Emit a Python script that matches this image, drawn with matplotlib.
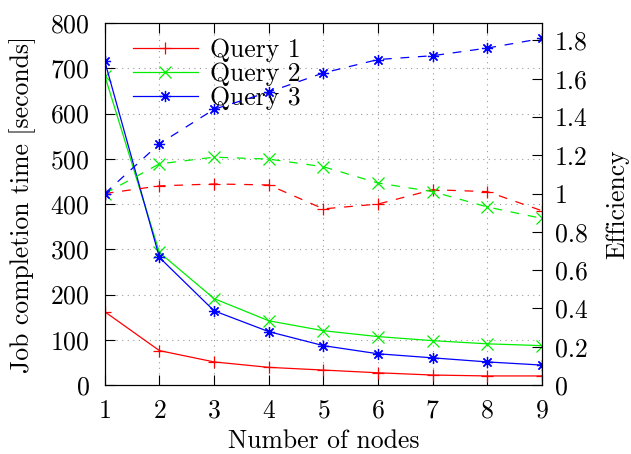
import numpy as np
import matplotlib.pyplot as plt

plt.rcParams['font.family'] = ['cmr10', 'DejaVu Serif']
plt.rcParams['axes.formatter.use_mathtext'] = True
plt.rcParams['mathtext.fontset'] = 'cm'

# Дані з графіка
nodes = [1, 2, 3, 4, 5, 6, 7, 8, 9]

time_q1 = [162, 76, 51, 39, 33, 27, 22, 20, 20]
time_q2 = [684, 293, 191, 142, 120, 107, 98, 91, 87]
time_q3 = [716, 282, 164, 118, 87, 69, 60, 51, 44]

eff_q1 = [1.0, 1.04, 1.05, 1.045, 0.92, 0.945, 1.02, 1.01, 0.91]
eff_q2 = [1.0, 1.155, 1.19, 1.18, 1.14, 1.055, 1.01, 0.93, 0.87]
eff_q3 = [1.0, 1.26, 1.44, 1.53, 1.63, 1.70, 1.72, 1.76, 1.81]

labels = ['Query 1', 'Query 2', 'Query 3']
colors = ['#ff0000', '#00ee00', '#0000ff']
markers = ['+', 'x', (8, 2, 0)]

fs = 18.5

fig = plt.figure(figsize=(6.31, 4.54), dpi=100)
ax = fig.add_axes([0.166, 0.152, 0.693, 0.797])
ax2 = ax.twinx()

times = [time_q1, time_q2, time_q3]
effs = [eff_q1, eff_q2, eff_q3]

for t, e, lab, c, m in zip(times, effs, labels, colors, markers):
    ax.plot(nodes, t, color=c, marker=m, lw=0.9, ms=8, mew=0.9, label=lab)
    ax2.plot(nodes, e, color=c, marker=m, lw=0.9, ms=8, mew=0.9, ls=(0, (7, 7)))

ax.set_xlim(1, 9)
ax.set_ylim(0, 800)
ax2.set_ylim(0, 1.89)
ax.set_xticks(nodes)
ax.set_yticks(range(0, 801, 100))
ax2.set_yticks([0, 0.2, 0.4, 0.6, 0.8, 1, 1.2, 1.4, 1.6, 1.8])
ax2.set_yticklabels(['0', '0.2', '0.4', '0.6', '0.8', '1', '1.2', '1.4', '1.6', '1.8'])

ax.grid(True, ls=(0, (1, 4)), color='#999999', lw=0.8)
ax.tick_params(direction='in', length=7, labelsize=fs, top=True, right=False)
ax.tick_params(axis='y', pad=11)
ax.tick_params(axis='x', pad=10)
ax2.tick_params(direction='in', length=7, labelsize=fs, pad=9)

ax.set_xlabel('Number of nodes', fontsize=fs, labelpad=5)
ax.set_ylabel('Job completion time [seconds]', fontsize=fs, labelpad=10)
ax2.set_ylabel('Efficiency', fontsize=fs, labelpad=13)

ax.legend(loc='upper left', bbox_to_anchor=(0.03, 1.0), frameon=False, fontsize=fs,
          handlelength=2.5, handletextpad=0.5, labelspacing=0.0, borderaxespad=0.2)

fig.savefig('out.png', dpi=100)
